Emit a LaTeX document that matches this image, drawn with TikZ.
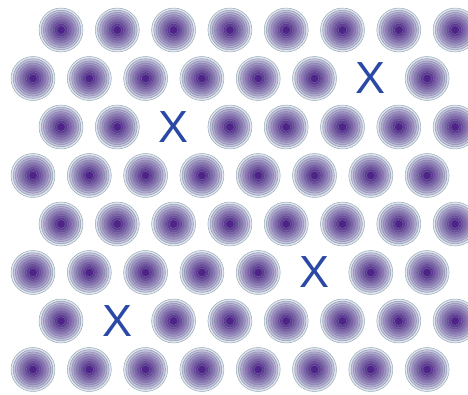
\documentclass[tikz,border=0pt]{standalone}
\usepackage{fontspec}
\setmainfont{Liberation Sans}
\usepackage{xcolor}
\usepackage{tikz}

\definecolor{diskcore}{HTML}{4E2488}
\definecolor{diskrim}{HTML}{E0E6F0}
\definecolor{ringline}{HTML}{94A6B2}
\definecolor{vacancy}{HTML}{2A48A6}

\tikzset{
	vacancymark/.style={text=vacancy, inner sep=0pt, font=\fontsize{45}{45}\selectfont},
	ring/.style={line width=0.45pt},
}

% one disk = nine nested rings, pale rim to dark core
\newcommand{\ringdisk}[1]{%
	\foreach \k in {0,...,8}{%
		\pgfmathtruncatemacro{\shade}{100*(\k/8)^0.8}%
		\pgfmathtruncatemacro{\lineshade}{0.5*\shade}%
		\pgfmathsetmacro{\rad}{22-2.2*\k}%
		\draw[ring, draw=diskcore!\lineshade!ringline, fill=diskcore!\shade!diskrim] (#1) circle (\rad pt);
	}%
}

\begin{document}
\begin{tikzpicture}[x=1pt, y=-1pt]
		\useasboundingbox (0,0) rectangle (468,394);

		% Lattice of disks, odd rows shifted left
		\foreach \row in {0,...,7}{
			\pgfmathsetmacro{\yy}{30+48.5*\row}
			\pgfmathsetmacro{\xs}{isodd(\row) ? 33 : 61}
			\foreach \col in {0,...,7}{
				\pgfmathtruncatemacro{\gap}{(\row==1 && \col==6) || (\row==2 && \col==2) || (\row==5 && \col==5) || (\row==6 && \col==1)}
				\ifnum\gap=0
					\pgfmathsetmacro{\xx}{\xs+56.3*\col}
					\coordinate (d\row-\col) at (\xx,\yy);
					\ringdisk{d\row-\col}
				\fi
			}
		}

		% Vacancies
		\node[vacancymark] (x1) at (370.8,78.5) {X};
		\node[vacancymark] (x2) at (173.6,127) {X};
		\node[vacancymark] (x3) at (314.5,272.5) {X};
		\node[vacancymark] (x4) at (117.3,321) {X};
	\end{tikzpicture}
\end{document}
